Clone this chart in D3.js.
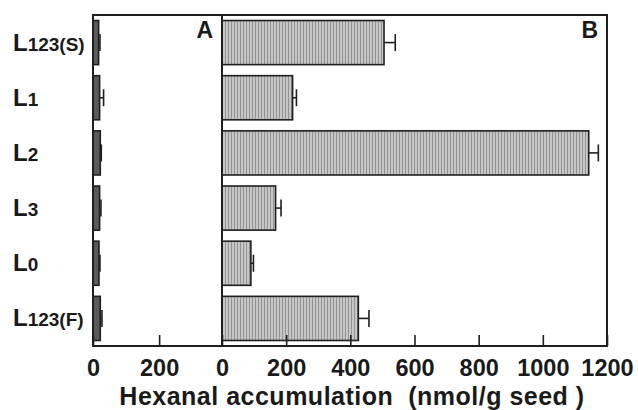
<!DOCTYPE html>
<html>
<head>
<meta charset="utf-8">
<script src="https://cdn.jsdelivr.net/npm/d3@7"></script>
<style>
  body { margin: 0; background: #fff; }
  svg text { font-family: "Liberation Sans", Arial, Helvetica, sans-serif; font-weight: bold; fill: #1a1a1a; }
</style>
</head>
<body>
<svg id="chart"></svg>
<script>
const svgWidth = 638, svgHeight = 410;
// lines, shown as "L" + subscript
const lines = ["L123(S)", "L1", "L2", "L3", "L0", "L123(F)"];
const subs = ["123(S)", "1", "2", "3", "0", "123(F)"];
// panel A (small values) and panel B, nmol/g seed
const valuesA = [17, 20, 22, 20, 18, 22];
const errA = [4, 12, 3, 4, 3, 5];
const valuesB = [505, 220, 1143, 167, 90, 425];
const errB = [35, 12, 30, 17, 8, 33];
const ticksA = [0, 200];
const ticksB = [0, 200, 400, 600, 800, 1000, 1200];

const frame = {left: 93, mid: 222, right: 607, top: 15, bottom: 346};
const ink = "#1f1f1f";

const chart = d3.select("#chart")
    .attr("width", svgWidth)
    .attr("height", svgHeight);

// hatched grey fill like the print
const pat = chart.append("defs").append("pattern")
    .attr("id", "hatch")
    .attr("patternUnits", "userSpaceOnUse")
    .attr("width", 3).attr("height", 3);
pat.append("rect").attr("width", 3).attr("height", 3).attr("fill", "#c6c6c6");
pat.append("rect").attr("width", 1).attr("height", 3).attr("fill", "#939393");

var yScale = d3.scaleBand()
    .domain(lines)
    .range([frame.top, frame.bottom])
    .paddingInner(0.2)
    .paddingOuter(0.1);
var xA = d3.scaleLinear().domain([0, 390]).range([frame.left, frame.mid]);
var xB = d3.scaleLinear().domain([0, 1200]).range([frame.mid, frame.right]);

function drawPanel(x, values, errs, ticks, letter, fill) {
    var g = chart.append("g");
    var data = lines.map(function(d, i){ return {k: d, v: values[i], e: errs[i]}; });
    // bars
    g.selectAll("rect.bar").data(data).enter().append("rect")
        .attr("class", "bar")
        .attr("x", x(0))
        .attr("y", function(d){ return yScale(d.k); })
        .attr("width", function(d){ return x(d.v) - x(0); })
        .attr("height", yScale.bandwidth())
        .attr("fill", fill)
        .attr("stroke", ink)
        .attr("stroke-width", 1.6);
    // error bars
    var cy = function(d){ return yScale(d.k) + yScale.bandwidth() / 2; };
    g.selectAll("line.err").data(data).enter().append("line")
        .attr("x1", function(d){ return x(d.v); })
        .attr("x2", function(d){ return x(d.v + d.e); })
        .attr("y1", cy).attr("y2", cy)
        .attr("stroke", ink).attr("stroke-width", 1.6);
    g.selectAll("line.cap").data(data).enter().append("line")
        .attr("x1", function(d){ return x(d.v + d.e); })
        .attr("x2", function(d){ return x(d.v + d.e); })
        .attr("y1", function(d){ return cy(d) - 8.5; })
        .attr("y2", function(d){ return cy(d) + 8.5; })
        .attr("stroke", ink).attr("stroke-width", 1.6);
    // bottom axis, ticks pointing in
    var axis = chart.append("g")
        .attr("transform", "translate(0," + frame.bottom + ")")
        .call(d3.axisBottom(x).tickValues(ticks).tickFormat(d3.format("d"))
            .tickSizeInner(-11).tickSizeOuter(0).tickPadding(13));
    axis.select(".domain").remove();
    axis.selectAll("line").attr("stroke", ink).attr("stroke-width", 1.6);
    axis.selectAll("text")
        .attr("font-size", 23.5)
        .attr("font-family", "Liberation Sans, Arial, sans-serif")
        .attr("font-weight", "bold")
        .attr("fill", ink);
    // panel letter
    chart.append("text")
        .attr("x", x.range()[1] - 9)
        .attr("y", 38)
        .attr("text-anchor", "end")
        .attr("font-size", 23)
        .text(letter);
}

drawPanel(xA, valuesA, errA, ticksA, "A", "#5a5a5a");
drawPanel(xB, valuesB, errB, ticksB, "B", "url(#hatch)");

// frame
chart.append("rect")
    .attr("x", frame.left).attr("y", frame.top)
    .attr("width", frame.right - frame.left)
    .attr("height", frame.bottom - frame.top)
    .attr("fill", "none").attr("stroke", ink).attr("stroke-width", 2);
chart.append("line")
    .attr("x1", frame.mid).attr("x2", frame.mid)
    .attr("y1", frame.top).attr("y2", frame.bottom)
    .attr("stroke", ink).attr("stroke-width", 2);

// category labels
var lab = chart.selectAll("text.cat").data(lines).enter().append("text")
    .attr("class", "cat")
    .attr("x", 13)
    .attr("y", function(d){ return yScale(d) + yScale.bandwidth() / 2 + 8; })
    .attr("font-size", 24);
lab.append("tspan").text("L");
lab.append("tspan").attr("font-size", 19).text(function(d, i){ return subs[i]; });

// x title
chart.append("text")
    .attr("x", 352)
    .attr("y", 405)
    .attr("text-anchor", "middle")
    .attr("font-size", 25)
    .attr("letter-spacing", 0.5)
    .style("white-space", "pre")
    .text("Hexanal accumulation  (nmol/g seed )");
</script>
</body>
</html>
